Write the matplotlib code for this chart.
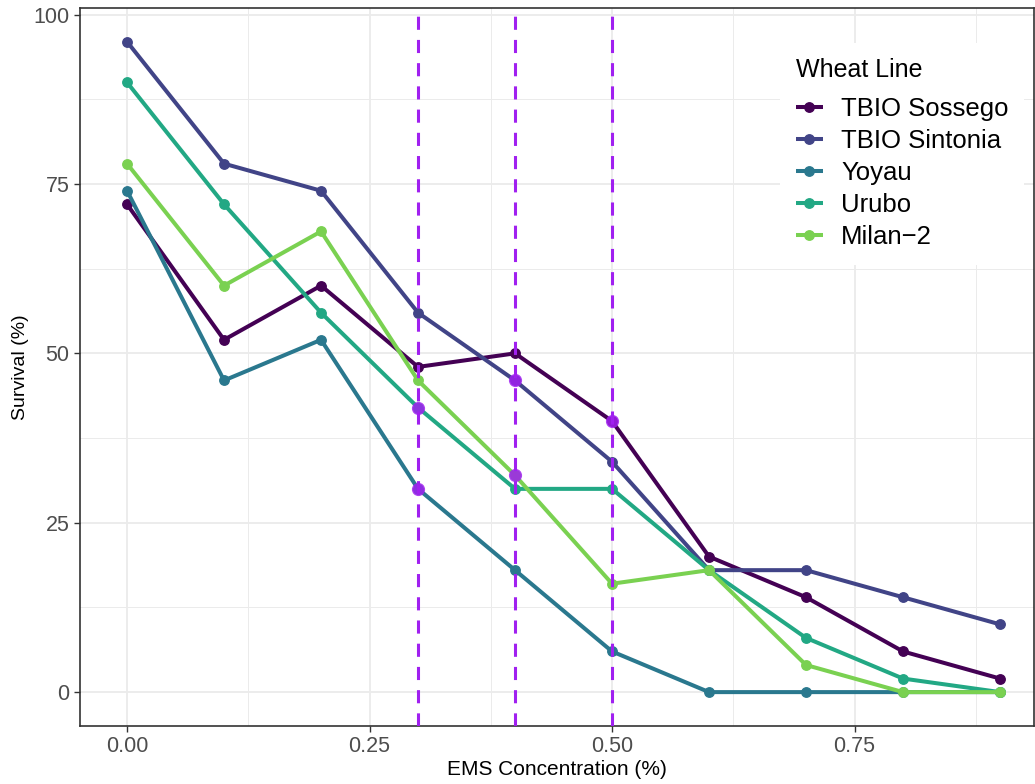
import matplotlib.pyplot as plt
import numpy as np

plt.rcParams['font.family'] = ['Liberation Sans', 'DejaVu Sans']

# EMS dose series, survival in percent
ems = [0.0, 0.1, 0.2, 0.3, 0.4, 0.5, 0.6, 0.7, 0.8, 0.9]
lines = ['TBIO Sossego', 'TBIO Sintonia', 'Yoyau', 'Urubo', 'Milan\u22122']
sossego = [72, 52, 60, 48, 50, 40, 20, 14, 6, 2]
sintonia = [96, 78, 74, 56, 46, 34, 18, 18, 14, 10]
yoyau = [74, 46, 52, 30, 18, 6, 0, 0, 0, 0]
urubo = [90, 72, 56, 42, 30, 30, 18, 8, 2, 0]
milan = [78, 60, 68, 46, 32, 16, 18, 4, 0, 0]
colors = ['#440154', '#414487', '#2A788E', '#22A884', '#7AD151']

# chosen doses and the points picked out on them
cut_doses = [0.3, 0.4, 0.5]
pick_x = [0.3, 0.3, 0.4, 0.4, 0.5]
pick_y = [42, 30, 46, 32, 40]

fig = plt.figure(figsize=(10.35, 7.84), dpi=100)
ax = fig.add_axes([0.0773, 0.074, 0.9217, 0.916])

for name, vals, c in zip(lines, [sossego, sintonia, yoyau, urubo, milan], colors):
    ax.plot(ems, vals, color=c, lw=2.9, marker='o', markersize=6.8, label=name,
            solid_capstyle='butt', zorder=3)

for d in cut_doses:
    ax.axvline(d, color='#A020F0', lw=2.2, ls=(0, (4.3, 3.3)), zorder=4)
ax.scatter(pick_x, pick_y, s=90, color='#A020F0', alpha=0.85, zorder=5, lw=0)

ax.set_xlim(-0.0485, 0.935)
ax.set_ylim(-5, 101)
ax.set_xticks([0, 0.25, 0.5, 0.75])
ax.set_xticklabels(['0.00', '0.25', '0.50', '0.75'])
ax.set_yticks([0, 25, 50, 75, 100])
ax.set_xticks([0.125, 0.375, 0.625, 0.875], minor=True)
ax.set_yticks([12.5, 37.5, 62.5, 87.5], minor=True)
ax.grid(True, which='major', color='#EBEBEB', lw=1.3, zorder=0)
ax.grid(True, which='minor', color='#EBEBEB', lw=0.7, zorder=0)
ax.tick_params(which='minor', length=0)
ax.tick_params(which='major', length=4, width=1, color='#333333', labelcolor='#4D4D4D',
               labelsize=15.5)
for s in ax.spines.values():
    s.set_color('#333333')
    s.set_linewidth(1.2)
ax.set_axisbelow(True)

ax.set_xlabel('EMS Concentration (%)', fontsize=15, labelpad=2)
ax.set_ylabel('Survival (%)', fontsize=14, labelpad=3)

leg = ax.legend(title='Wheat Line', loc='upper right', bbox_to_anchor=(1.003, 0.969),
                fontsize=18.5, title_fontsize=18, frameon=True, fancybox=False,
                handlelength=1.05, handletextpad=0.72, labelspacing=0.31,
                borderpad=0.6, alignment='left')
leg.get_frame().set_edgecolor('none')
leg.get_frame().set_facecolor('white')
leg.get_frame().set_alpha(1)
leg.set_zorder(6)
# more room between the title and the first entry
leg._legend_box.sep += 5

fig.savefig('out.png', dpi=100)
